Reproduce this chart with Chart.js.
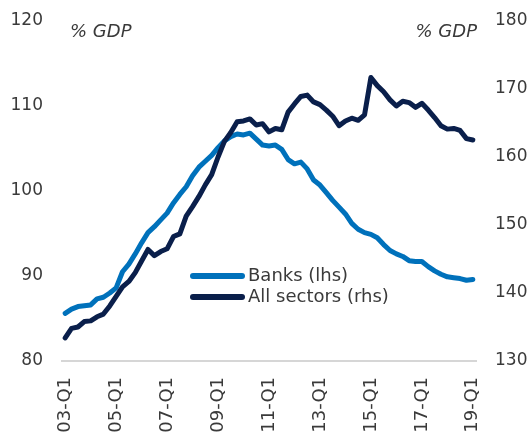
<!DOCTYPE html>
<html>
<head>
<meta charset="utf-8">
<script src="https://cdn.jsdelivr.net/npm/chart.js@4/dist/chart.umd.min.js"></script>
<style>
  body { margin: 0; background: #fff; }
</style>
</head>
<body>
<canvas id="myChart" width="531" height="432"></canvas>
<script>
// quarters 03-Q1 .. 19-Q1
const quarters = [];
for (let y = 3; y <= 19; y++) {
    for (let q = 1; q <= 4; q++) {
        if (y === 19 && q > 1) break;
        quarters.push(String(y).padStart(2, '0') + '-Q' + q);
    }
}

// Banks, % GDP (lhs)
const banks = [
    85.6, 86.1, 86.4, 86.5, 86.6, 87.3, 87.5, 88.0, 88.6, 90.5,
    91.4, 92.6, 93.9, 95.1, 95.8, 96.6, 97.4, 98.6, 99.6, 100.5,
    101.8, 102.8, 103.5, 104.2, 105.1, 105.9, 106.4, 106.7, 106.6, 106.8,
    106.1, 105.4, 105.3, 105.4, 104.9, 103.7, 103.2, 103.4, 102.6, 101.3,
    100.7, 99.8, 98.9, 98.1, 97.3, 96.2, 95.5, 95.1, 94.9, 94.5,
    93.7, 93.0, 92.6, 92.3, 91.8, 91.7, 91.7, 91.1, 90.6, 90.2,
    89.9, 89.8, 89.7, 89.5, 89.6
];

// All sectors, % GDP (rhs)
const allSectors = [
    133.4, 134.8, 135.0, 135.8, 135.9, 136.5, 136.9, 138.1, 139.5, 140.9,
    141.7, 143.0, 144.7, 146.4, 145.5, 146.1, 146.5, 148.3, 148.7, 151.3,
    152.7, 154.2, 155.9, 157.4, 160.0, 162.3, 163.6, 165.2, 165.3, 165.6,
    164.7, 164.9, 163.7, 164.2, 164.0, 166.6, 167.8, 168.9, 169.1, 168.1,
    167.7, 166.9, 166.0, 164.6, 165.3, 165.7, 165.4, 166.2, 171.7, 170.5,
    169.6, 168.4, 167.5, 168.2, 168.0, 167.3, 167.9, 166.9, 165.8, 164.6,
    164.1, 164.2, 163.9, 162.7, 162.5
];

const leftTicks = [80, 90, 100, 110, 120];
const rightTicks = [130, 140, 150, 160, 170, 180];

const seriesNames = ['Banks (lhs)', 'All sectors (rhs)'];
const colBanks = '#0071bb';
const colAll = '#0a1f4b';
const txtCol = '#3a3a3a';
const fontFam = '"DejaVu Sans", Verdana, sans-serif';

// unit labels + legend drawn inside the plot
const extras = {
    id: 'extras',
    afterDraw(chart) {
        const ctx = chart.ctx;
        const a = chart.chartArea;
        ctx.save();
        ctx.fillStyle = txtCol;
        ctx.font = 'italic 18px ' + fontFam;
        ctx.textBaseline = 'middle';
        ctx.textAlign = 'left';
        ctx.fillText('% GDP', a.left + 8, 32);
        ctx.textAlign = 'right';
        ctx.fillText('% GDP', a.right + 1, 32);

        const items = [[seriesNames[0], colBanks, 276], [seriesNames[1], colAll, 297]];
        ctx.font = '18px ' + fontFam;
        ctx.textAlign = 'left';
        items.forEach(it => {
            ctx.strokeStyle = it[1];
            ctx.lineWidth = 6;
            ctx.lineCap = 'round';
            ctx.beginPath();
            ctx.moveTo(a.left + 131, it[2]);
            ctx.lineTo(a.left + 180, it[2]);
            ctx.stroke();
            ctx.fillText(it[0], a.left + 186, it[2]);
        });
        ctx.restore();
    }
};

const config = {
    type: 'line',
    data: {
        labels: quarters,
        datasets: [{
            label: seriesNames[0],
            data: banks,
            yAxisID: 'yL',
            borderColor: colBanks,
            borderWidth: 5,
            pointRadius: 0,
            tension: 0,
            borderJoinStyle: 'round',
            borderCapStyle: 'round',
            order: 2
        }, {
            label: seriesNames[1],
            data: allSectors,
            yAxisID: 'yR',
            borderColor: colAll,
            borderWidth: 5,
            pointRadius: 0,
            tension: 0,
            borderJoinStyle: 'round',
            borderCapStyle: 'round',
            order: 1
        }]
    },
    options: {
        responsive: false,
        animation: false,
        layout: { padding: { top: 21, left: 0, right: 0, bottom: 0 } },
        plugins: { legend: { display: false }, tooltip: { enabled: false } },
        scales: {
            x: {
                offset: true,
                grid: { display: false, drawTicks: true, tickLength: 16 },
                border: { display: true, color: '#d6d6d6', width: 2 },
                afterFit(s) { s.height = 71; },
                ticks: {
                    autoSkip: false,
                    minRotation: 90,
                    maxRotation: 90,
                    padding: 0,
                    color: txtCol,
                    font: { family: fontFam, size: 18 },
                    callback(v, i) { return i % 8 === 0 ? quarters[i] : null; }
                }
            },
            yL: {
                position: 'left',
                min: leftTicks[0],
                max: leftTicks[leftTicks.length - 1],
                afterBuildTicks(s) { s.ticks = leftTicks.map(v => ({ value: v })); },
                afterFit(s) { s.width = 62; },
                grid: { display: false, drawTicks: true, tickLength: 19 },
                border: { display: false },
                ticks: { padding: 0, color: txtCol, font: { family: fontFam, size: 17 } }
            },
            yR: {
                position: 'right',
                min: rightTicks[0],
                max: rightTicks[rightTicks.length - 1],
                afterBuildTicks(s) { s.ticks = rightTicks.map(v => ({ value: v })); },
                afterFit(s) { s.width = 55; },
                grid: { display: false, drawTicks: true, tickLength: 19 },
                border: { display: false },
                ticks: { padding: 0, color: txtCol, font: { family: fontFam, size: 17 } }
            }
        }
    },
    plugins: [extras]
};

const myChart = new Chart(document.getElementById('myChart'), config);
</script>
</body>
</html>
